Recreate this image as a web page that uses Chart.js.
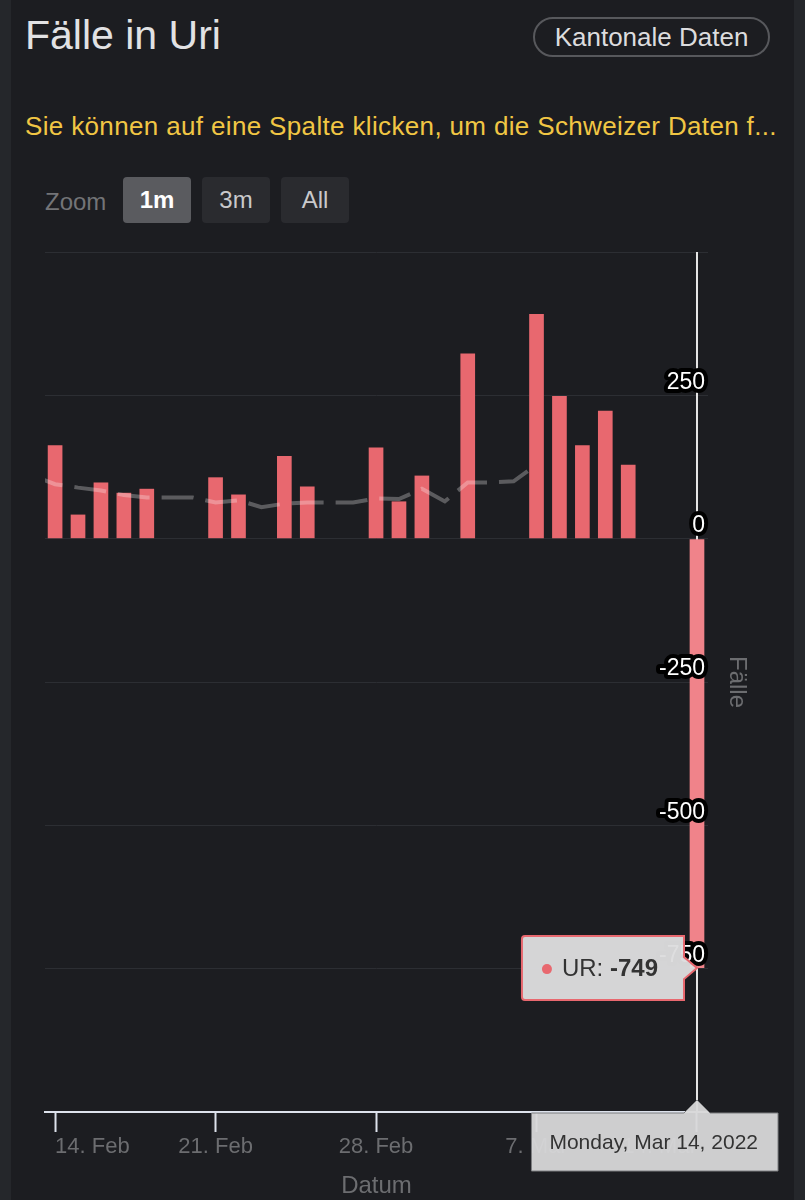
<!DOCTYPE html>
<html lang="de">
<head>
<meta charset="utf-8">
<title>Fälle in Uri</title>
<script src="https://cdn.jsdelivr.net/npm/chart.js@4.4.1/dist/chart.umd.min.js"></script>
<style>
  html, body { margin: 0; padding: 0; background: #25272b; }
  body { width: 805px; height: 1200px; position: relative; overflow: hidden; font-family: "Liberation Sans", Arial, sans-serif; }
  .card { position: absolute; left: 11px; top: 0; width: 783px; height: 1200px; background: #1c1d21; }
  .title { position: absolute; left: 25px; top: 15px; margin: 0; font-size: 41px; line-height: 41px; font-weight: normal; color: #e2e2e4; }
  .canton { position: absolute; left: 533px; top: 17px; width: 233px; height: 36px; border: 2px solid #57585c; border-radius: 20px;
            font-size: 26px; line-height: 36px; text-align: center; color: #dcdcde; }
  .hint { position: absolute; left: 25px; top: 111px; font-size: 26px; letter-spacing: 0.35px; line-height: 30px; color: #f1c644; white-space: nowrap; }
  .zoom { position: absolute; left: 45px; top: 187px; font-size: 24px; line-height: 30px; color: #737477; }
  .btn { position: absolute; top: 177px; width: 68px; height: 46px; border-radius: 4px; font-size: 24px; line-height: 46px; text-align: center; }
  .b1 { left: 123px; background: #5a5b5f; color: #fff; font-weight: bold; }
  .b3 { left: 202px; background: #2a2b2f; color: #c9c9cb; }
  .ba { left: 281px; background: #2a2b2f; color: #c9c9cb; }
  #chart { position: absolute; left: 0; top: 232px; }
</style>
</head>
<body>
<div class="card"></div>
<h1 class="title">Fälle in Uri</h1>
<div class="canton">Kantonale Daten</div>
<div class="hint">Sie können auf eine Spalte klicken, um die Schweizer Daten f...</div>
<div class="zoom">Zoom</div>
<div class="btn b1">1m</div>
<div class="btn b3">3m</div>
<div class="btn ba">All</div>
<canvas id="chart" width="805" height="968"></canvas>

<script>
// daily new cases (bars)
const dates = ['2022-02-14', '2022-02-15', '2022-02-16', '2022-02-17', '2022-02-18',
    '2022-02-21', '2022-02-22', '2022-02-24', '2022-02-25', '2022-02-28',
    '2022-03-01', '2022-03-02', '2022-03-04', '2022-03-07', '2022-03-08',
    '2022-03-09', '2022-03-10', '2022-03-11', '2022-03-14'];
const cases = [163, 42, 98, 80, 87, 107, 77, 144, 91, 159, 65, 110, 323, 392, 249, 163, 223, 129, -749];

// rolling average (dashed line)
const avgDates = ['2022-02-13', '2022-02-14', '2022-02-15', '2022-02-16', '2022-02-17', '2022-02-18',
    '2022-02-19', '2022-02-20', '2022-02-21', '2022-02-22', '2022-02-23', '2022-02-24',
    '2022-02-25', '2022-02-26', '2022-02-27', '2022-02-28', '2022-03-01', '2022-03-02',
    '2022-03-03', '2022-03-04', '2022-03-05', '2022-03-06', '2022-03-07'];
const avgCases = [110, 95, 89, 84, 76, 72, 72, 72, 63, 67, 55, 61, 63, 63, 63, 70, 69, 87, 65, 98, 98, 100, 129];

// axis ticks
const xTickDates = ['2022-02-14', '2022-02-21', '2022-02-28', '2022-03-07', '2022-03-14'];
const xTickLabels = ['14. Feb', '21. Feb', '28. Feb', '7. Mar', '14. Mar'];
const yTickValues = [-1000, -750, -500, -250, 0, 250, 500];
const yTickLabels = ['', '-750', '-500', '-250', '0', '250', ''];

// hovered point
const hoverDate = '2022-03-14';
const hoverTitle = 'Monday, Mar 14, 2022';
const seriesName = 'UR';

const FONT = '"Liberation Sans", Arial, sans-serif';
const DAY = 86400000;
const T0 = Date.UTC(2022, 1, 14);
function dayNo(s) {
    const p = s.split('-').map(Number);
    return (Date.UTC(p[0], p[1] - 1, p[2]) - T0) / DAY;
}
const hoverIdx = dates.indexOf(hoverDate);
const BAR = '#e8686f';
const BAR_HOVER = '#f0838a';

Chart.defaults.font.family = FONT;

// crosshair + the two tooltips of the hovered column
const hoverPlugin = {
    id: 'hoverMarks',
    beforeDraw(chart) {
        // rounded outline for the stroked y labels
        chart.ctx.lineJoin = 'round';
    },
    beforeDatasetsDraw(chart) {
        const el = chart.getDatasetMeta(1).data[hoverIdx];
        const { ctx, chartArea } = chart;
        ctx.save();
        ctx.strokeStyle = '#e6e6e6';
        ctx.lineWidth = 2;
        ctx.beginPath();
        ctx.moveTo(el.x, chartArea.top);
        ctx.lineTo(el.x, chartArea.bottom);
        ctx.stroke();
        ctx.restore();
    },
    afterDraw(chart) {
        const el = chart.getDatasetMeta(1).data[hoverIdx];
        const { ctx, chartArea } = chart;
        ctx.save();

        // value tooltip, pointing right at the bar end
        const normal = '24px ' + FONT, bold = 'bold 24px ' + FONT;
        ctx.font = normal;
        const w1 = ctx.measureText(seriesName + ': ').width;
        ctx.font = bold;
        const w2 = ctx.measureText(String(cases[hoverIdx])).width;
        const bw = 40 + w1 + w2 + 26, bh = 64;
        const bx = el.x - 13 - bw, by = el.y - bh / 2;
        ctx.lineJoin = 'miter';
        ctx.beginPath();
        ctx.moveTo(bx + 3, by);
        ctx.lineTo(bx + bw, by);
        ctx.lineTo(bx + bw, el.y - 11);
        ctx.lineTo(el.x, el.y);
        ctx.lineTo(bx + bw, el.y + 11);
        ctx.lineTo(bx + bw, by + bh);
        ctx.lineTo(bx + 3, by + bh);
        ctx.quadraticCurveTo(bx, by + bh, bx, by + bh - 3);
        ctx.lineTo(bx, by + 3);
        ctx.quadraticCurveTo(bx, by, bx + 3, by);
        ctx.closePath();
        ctx.fillStyle = 'rgba(221,221,222,0.96)';
        ctx.fill();
        ctx.strokeStyle = BAR;
        ctx.lineWidth = 2;
        ctx.stroke();
        ctx.fillStyle = BAR;
        ctx.beginPath();
        ctx.arc(bx + 25, el.y + 1, 5, 0, Math.PI * 2);
        ctx.fill();
        ctx.fillStyle = '#333';
        ctx.textBaseline = 'middle';
        ctx.font = normal;
        ctx.fillText(seriesName + ': ', bx + 40, el.y + 1);
        ctx.font = bold;
        ctx.fillText(String(cases[hoverIdx]), bx + 40 + w1, el.y + 1);

        // date tooltip on the x axis
        ctx.font = '21px ' + FONT;
        const tw = ctx.measureText(hoverTitle).width;
        const dw = tw + 38, dh = 58;
        const dx = Math.min(el.x - dw / 2, 778 - dw), dy = chartArea.bottom + 1;
        ctx.beginPath();
        ctx.moveTo(dx, dy);
        ctx.lineTo(el.x - 13, dy);
        ctx.lineTo(el.x, dy - 13);
        ctx.lineTo(el.x + 13, dy);
        ctx.lineTo(dx + dw, dy);
        ctx.lineTo(dx + dw, dy + dh);
        ctx.lineTo(dx, dy + dh);
        ctx.closePath();
        ctx.fillStyle = 'rgba(216,216,217,0.95)';
        ctx.fill();
        ctx.strokeStyle = '#7d7e80';
        ctx.lineWidth = 1;
        ctx.stroke();
        ctx.fillStyle = '#333';
        ctx.fillText(hoverTitle, dx + 18, dy + dh / 2 + 1);
        ctx.restore();
    }
};

const ctx = document.getElementById('chart').getContext('2d');
new Chart(ctx, {
    type: 'bar',
    data: {
        datasets: [{
            type: 'line',
            label: 'Mittelwert',
            data: avgDates.map((d, i) => ({ x: dayNo(d), y: avgCases[i] })),
            borderColor: 'rgba(255,255,255,0.28)',
            borderWidth: 4,
            borderDash: [32, 12],
            pointRadius: 0,
            tension: 0,
            fill: false,
            clip: 0,
            order: 0
        }, {
            type: 'bar',
            label: seriesName,
            data: dates.map((d, i) => ({ x: dayNo(d), y: cases[i] })),
            backgroundColor: c => c.dataIndex === hoverIdx ? BAR_HOVER : BAR,
            borderWidth: 0,
            barPercentage: 0.8,
            categoryPercentage: 0.8,
            order: 1
        }]
    },
    options: {
        responsive: false,
        devicePixelRatio: 1,
        animation: false,
        events: [],
        layout: { padding: { left: 45, top: 20, right: 0, bottom: 0 } },
        scales: {
            x: {
                type: 'linear',
                min: -0.44,
                max: 28.48,
                offset: false,
                afterBuildTicks: s => { s.ticks = xTickDates.map(d => ({ value: dayNo(d) })); },
                afterFit: s => { s.height = 88; },
                grid: { drawOnChartArea: false, offset: false, tickLength: 20, tickColor: '#dde2ec', tickWidth: 2 },
                border: { display: true, color: '#dde2ec', width: 2 },
                ticks: {
                    align: 'inner',
                    autoSkip: false,
                    maxRotation: 0,
                    padding: 2,
                    color: '#6c6d70',
                    font: { size: 22 },
                    callback: v => xTickLabels[xTickDates.findIndex(d => dayNo(d) === v)]
                },
                title: { display: true, text: 'Datum', color: '#6c6d70', font: { size: 24 }, padding: { top: 0, bottom: -1 } }
            },
            y: {
                type: 'linear',
                position: 'right',
                min: -1000,
                max: 500,
                afterBuildTicks: s => { s.ticks = yTickValues.map(v => ({ value: v })); },
                afterFit: s => { s.width = 97; },
                grid: { color: '#2c2e33', lineWidth: 1, drawTicks: false },
                border: { display: false },
                ticks: {
                    mirror: true,
                    padding: -3,
                    labelOffset: -13,
                    z: 1,
                    color: '#ffffff',
                    font: { size: 23 },
                    textStrokeColor: '#000000',
                    textStrokeWidth: 8,
                    callback: v => yTickLabels[yTickValues.indexOf(v)]
                },
                title: { display: true, text: 'Fälle', color: '#6c6d70', font: { size: 24 }, padding: { top: 54, bottom: 0 } }
            }
        },
        plugins: {
            legend: { display: false },
            tooltip: { enabled: false }
        }
    },
    plugins: [hoverPlugin]
});
</script>
</body>
</html>
